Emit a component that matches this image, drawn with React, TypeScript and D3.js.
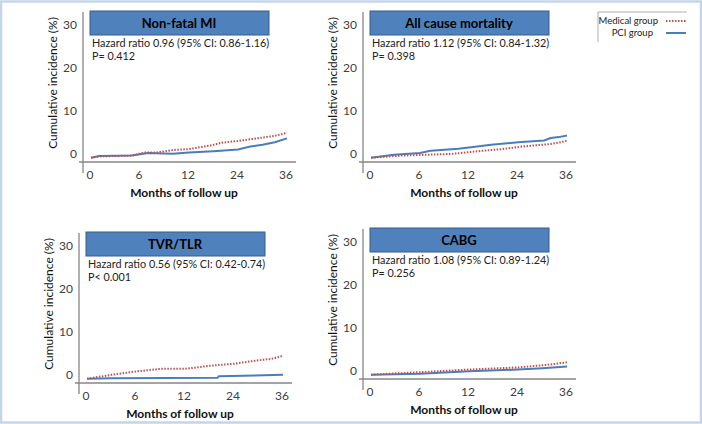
import { useEffect, useRef } from 'react';
import * as d3 from 'd3';

type Pt = [number, number];

// chart values
const xTicks = [0, 6, 12, 24, 36];
const yTicks = [0, 10, 20, 30];
const titles = ['Non-fatal MI', 'All cause mortality', 'TVR/TLR', 'CABG'];
const hazardTexts = [
    'Hazard ratio 0.96 (95% CI: 0.86-1.16)',
    'Hazard ratio 1.12 (95% CI: 0.84-1.32)',
    'Hazard ratio 0.56 (95% CI: 0.42-0.74)',
    'Hazard ratio 1.08 (95% CI: 0.89-1.24)',
];
const pTexts = ['P= 0.412', 'P= 0.398', 'P< 0.001', 'P= 0.256'];
const seriesNames = ['Medical group', 'PCI group'];

const miMedical: Pt[] = [[0, 0], [1, 0.3], [5, 0.5], [6.5, 1.2], [8, 1.2], [10, 1.8], [12, 2.0], [15, 2.5], [18, 3.0], [20, 3.5], [24, 3.9], [30, 4.7], [33, 5.1], [36, 5.8]];
const miPci: Pt[] = [[0, 0], [1, 0.4], [5, 0.5], [7, 1.1], [10, 0.9], [12, 1.2], [18, 1.5], [24, 1.9], [27, 2.6], [30, 3.0], [33, 3.6], [36, 4.5]];
const deathMedical: Pt[] = [[0, 0], [3.7, 0.5], [7, 0.7], [10, 0.9], [14, 1.5], [20, 2.0], [25, 2.6], [32, 3.2], [34, 3.5], [36, 4.0]];
const deathPci: Pt[] = [[0, 0], [2.8, 0.7], [6, 1.1], [7.3, 1.6], [10.7, 2.1], [14, 2.6], [17.4, 3.0], [24, 3.6], [30.4, 4.0], [32, 4.6], [34, 4.8], [36, 5.2]];
const tvrMedical: Pt[] = [[0, 0], [3, 0.9], [6, 1.7], [9, 2.3], [12, 2.3], [18, 3.0], [24, 3.5], [30, 4.3], [33, 4.6], [36, 5.3]];
const tvrPci: Pt[] = [[0, 0], [3, 0.1], [20, 0.2], [20.3, 0.6], [36, 0.9]];
const cabgMedical: Pt[] = [[0, 0], [6, 0.6], [12, 1.2], [24, 1.7], [30, 2.2], [33, 2.5], [36, 2.9]];
const cabgPci: Pt[] = [[0, 0], [6, 0.2], [12, 0.8], [24, 1.2], [30, 1.5], [36, 1.9]];

const medicalSeries = [miMedical, deathMedical, tvrMedical, cabgMedical];
const pciSeries = [miPci, deathPci, tvrPci, cabgPci];

// where each panel sits (y axis x, x axis y)
const panelPos = [
    { left: 83, base: 162 },
    { left: 363, base: 162 },
    { left: 79, base: 383 },
    { left: 363, base: 379 },
];

const FONT = 'Lato, "Open Sans", sans-serif';
const RED = '#c0504d';
const BLUE = '#4a7ebb';
const AXIS = '#868686';

const App: React.FC = () => {
    const svgRef = useRef<SVGSVGElement>(null);

    useEffect(() => {
        if (!svgRef.current) return;
        const svg = d3.select(svgRef.current);
        svg.selectAll('*').remove();

        svg.append('rect')
            .attr('width', 702).attr('height', 424)
            .attr('fill', '#fff');
        // light blue frame
        svg.append('rect')
            .attr('x', 1).attr('y', 1.5)
            .attr('width', 700).attr('height', 421)
            .attr('fill', 'none')
            .attr('stroke', '#c3d5ea')
            .attr('stroke-width', 2.5);

        panelPos.forEach((p, i) => {
            const g = svg.append('g');

            const x = d3.scaleLinear()
                .domain(xTicks)
                .range(xTicks.map((_, k) => p.left + 8 + k * 49));
            const y = d3.scaleLinear()
                .domain([-1, 30])
                .range([p.base, p.base - 133]);

            // axes
            g.append('line')
                .attr('x1', p.left - 4).attr('x2', p.left + 213)
                .attr('y1', p.base).attr('y2', p.base)
                .attr('stroke', AXIS).attr('stroke-width', 1.3);
            g.append('line')
                .attr('x1', p.left).attr('x2', p.left)
                .attr('y1', p.base - 150).attr('y2', p.base + 11)
                .attr('stroke', AXIS).attr('stroke-width', 1.3);

            g.selectAll('.yt')
                .data(yTicks)
                .enter().append('text')
                .attr('x', p.left - 6)
                .attr('y', d => y(d) - 4)
                .attr('dy', '0.35em')
                .attr('text-anchor', 'end')
                .attr('font-family', FONT)
                .attr('font-size', 12)
                .attr('fill', '#404040')
                .text(d => d);

            g.selectAll('.xt')
                .data(xTicks)
                .enter().append('text')
                .attr('x', d => x(d) - 1)
                .attr('y', p.base + 13)
                .attr('dy', '0.35em')
                .attr('text-anchor', 'middle')
                .attr('font-family', FONT)
                .attr('font-size', 12)
                .attr('fill', '#404040')
                .text(d => d);

            g.append('text')
                .attr('x', p.left + 101)
                .attr('y', p.base + 31)
                .attr('dy', '0.35em')
                .attr('text-anchor', 'middle')
                .attr('font-family', FONT)
                .attr('font-size', 12)
                .attr('font-weight', 'bold')
                .attr('fill', '#111')
                .text('Months of follow up');

            g.append('text')
                .attr('transform', `translate(${p.left - 30},${p.base - 79}) rotate(-90)`)
                .attr('dy', '0.35em')
                .attr('text-anchor', 'middle')
                .attr('font-family', FONT)
                .attr('font-size', 12)
                .attr('fill', '#111')
                .text('Cumulative incidence (%)');

            // title box
            g.append('rect')
                .attr('x', p.left + 7).attr('y', p.base - 151)
                .attr('width', 179).attr('height', 24)
                .attr('fill', '#4f81bd')
                .attr('stroke', '#385d8a')
                .attr('stroke-width', 1);
            g.append('text')
                .attr('x', p.left + 96)
                .attr('y', p.base - 139)
                .attr('dy', '0.35em')
                .attr('text-anchor', 'middle')
                .attr('font-family', FONT)
                .attr('font-size', 13)
                .attr('font-weight', 'bold')
                .attr('fill', '#000')
                .text(titles[i]);

            g.append('text')
                .attr('x', p.left + 9)
                .attr('y', p.base - 119)
                .attr('dy', '0.35em')
                .attr('font-family', FONT)
                .attr('font-size', 10.8)
                .attr('fill', '#222')
                .text(hazardTexts[i]);
            g.append('text')
                .attr('x', p.left + 9)
                .attr('y', p.base - 106)
                .attr('dy', '0.35em')
                .attr('font-family', FONT)
                .attr('font-size', 10.8)
                .attr('fill', '#222')
                .text(pTexts[i]);

            const line = d3.line<Pt>()
                .x(d => x(d[0]))
                .y(d => y(d[1]));

            g.append('path')
                .datum(pciSeries[i])
                .attr('d', line)
                .attr('fill', 'none')
                .attr('stroke', BLUE)
                .attr('stroke-width', 2);
            g.append('path')
                .datum(medicalSeries[i])
                .attr('d', line)
                .attr('fill', 'none')
                .attr('stroke', RED)
                .attr('stroke-width', 2)
                .attr('stroke-dasharray', '1.5,1.5');
        });

        // legend
        const leg = svg.append('g');
        leg.append('path')
            .attr('d', 'M598,42V12H687')
            .attr('fill', 'none')
            .attr('stroke', '#999')
            .attr('stroke-width', 0.8);
        seriesNames.forEach((name, k) => {
            const ly = 21 + k * 12;
            leg.append('text')
                .attr('x', k === 0 ? 658 : 653)
                .attr('y', ly)
                .attr('dy', '0.35em')
                .attr('text-anchor', 'end')
                .attr('font-family', FONT)
                .attr('font-size', 9.5)
                .attr('fill', '#222')
                .text(name);
            leg.append('line')
                .attr('x1', 666).attr('x2', 686)
                .attr('y1', ly).attr('y2', ly)
                .attr('stroke', k === 0 ? RED : BLUE)
                .attr('stroke-width', 2)
                .attr('stroke-dasharray', k === 0 ? '1.5,1.5' : null);
        });
    }, []);

    return (
        <div>
            <style>{'body{margin:0}'}</style>
            <svg ref={svgRef} width={702} height={424} style={{ display: 'block' }}></svg>
        </div>
    );
};

export default App;
